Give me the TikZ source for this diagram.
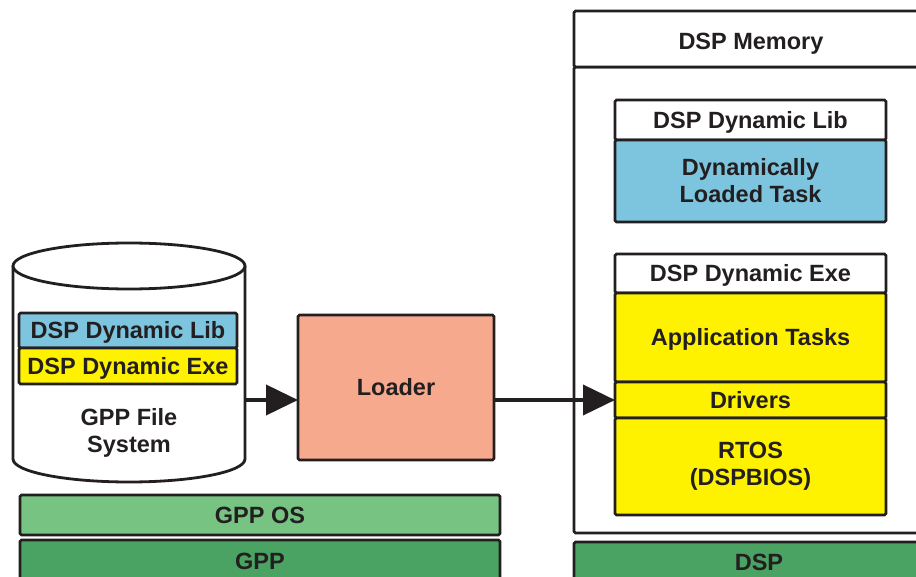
\documentclass[tikz,border=0pt]{standalone}
\usepackage{fontspec}
\setmainfont{Liberation Sans}
\usetikzlibrary{arrows.meta}
\definecolor{ink}{HTML}{231F20}
\definecolor{blu}{HTML}{7DC4DF}
\definecolor{yel}{HTML}{FFF200}
\definecolor{salm}{HTML}{F7A98E}
\definecolor{lgreen}{HTML}{77C382}
\definecolor{dgreen}{HTML}{4AA362}
\tikzset{
  box/.style={draw=ink, line width=2.8pt, rounded corners=1.5pt, inner sep=0pt, outer sep=0pt, anchor=north west,
    text=ink, font=\fontsize{23.5}{27}\selectfont\bfseries, align=center},
  one/.style={text height=16.8pt, text depth=0pt},
  conn/.style={draw=ink, line width=4pt, -{Triangle[length=32pt,width=30pt]}},
  lbl/.style={text=ink, font=\fontsize{23.5}{27}\selectfont\bfseries, align=center, inner sep=0pt}
}
\begin{document}
\begin{tikzpicture}[x=1pt,y=-1pt]
\useasboundingbox (0,0) rectangle (916,577);
% DSP memory
\node[box, fill=white, minimum width=370pt, minimum height=466pt] (membody) at (574,67) {};
\node[box, fill=white, minimum width=370pt, minimum height=56pt] (memtitle) at (574,11) {};
\node[lbl, one] (memtext) at (751,41) {DSP Memory};
% lib
\node[box, one, fill=white, minimum width=271pt, minimum height=40pt] (libhdr) at (615,100) {DSP Dynamic Lib};
\node[box, fill=blu, minimum width=271pt, minimum height=82pt] (libtask) at (615,140) {Dynamically\\Loaded Task};
% exe
\node[box, one, fill=white, minimum width=271pt, minimum height=39pt] (exehdr) at (615,254) {DSP Dynamic Exe};
\node[box, one, fill=yel, minimum width=271pt, minimum height=89pt] (app) at (615,293) {Application Tasks};
\node[box, one, fill=yel, minimum width=271pt, minimum height=36pt] (drv) at (615,382) {Drivers};
\node[box, fill=yel, minimum width=271pt, minimum height=97pt] (rtos) at (615,418) {RTOS\\(DSPBIOS)};
% bottom bars
\node[box, one, fill=dgreen, minimum width=370pt, minimum height=40pt] (dsp) at (574,542) {DSP};
\node[box, one, fill=lgreen, minimum width=480pt, minimum height=40pt] (gppos) at (20,495) {GPP OS};
\node[box, one, fill=dgreen, minimum width=480pt, minimum height=42pt] (gpp) at (20,540) {GPP};
% cylinder
\node[inner sep=0pt, outer sep=0pt, minimum width=232pt, minimum height=239pt, anchor=north west] (cyl) at (13,243) {};
\draw[draw=ink, line width=2.8pt, fill=white] (13,266) -- (13,459)
  arc[start angle=180, end angle=360, x radius=116pt, y radius=23pt] -- (245,266);
\draw[draw=ink, line width=2.8pt, fill=white] (129,266) ellipse[x radius=116pt, y radius=23pt];
\node[box, one, fill=blu, minimum width=218pt, minimum height=35pt] (clib) at (19,313) {DSP Dynamic Lib};
\node[box, one, fill=yel, minimum width=218pt, minimum height=36pt] (cexe) at (19,348) {DSP Dynamic Exe};
\node[lbl] (fs) at (129,433) {GPP File\\System};
% loader
\node[box, one, fill=salm, minimum width=196pt, minimum height=145pt] (loader) at (298,315) {Loader};
% connectors
\draw[conn] (cyl.east |- drv.west) -- (loader.west |- drv.west);
\draw[conn] (loader.east |- drv.west) -- (drv.west);
\end{tikzpicture}
\end{document}
